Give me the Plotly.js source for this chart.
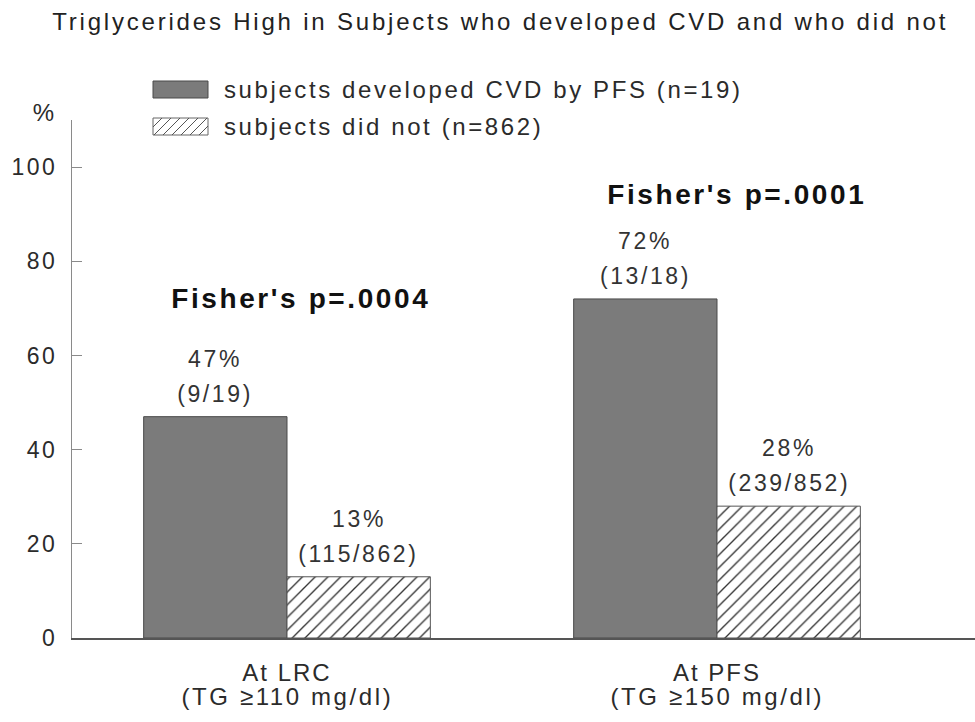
<!DOCTYPE html>
<html>
<head>
<meta charset="utf-8">
<script src="https://cdn.plot.ly/plotly-3.0.1.min.js"></script>
<style>
  html, body { margin: 0; padding: 0; background: #fff; }
  #chart { width: 975px; height: 722px; }
  #chart .gtitle { letter-spacing: 2.8px; }
  #chart .annotation-text { letter-spacing: 2.6px; }
  #chart .xtick text { letter-spacing: 2px; }
  #chart .ytick text { letter-spacing: 2.5px; }
</style>
</head>
<body>
<div id="chart"></div>
<script>
// ---- data ----
const categories = ["At LRC", "At PFS"];
const thresholdLabels = ["(TG ≥110 mg/dl)", "(TG ≥150 mg/dl)"];
const seriesNames = ["subjects developed CVD by PFS (n=19)", "subjects did not (n=862)"];
const cvdValues = [47, 72];
const noCvdValues = [13, 28];
const cvdCounts = ["9/19", "13/18"];
const noCvdCounts = ["115/862", "239/852"];
const fisherLabels = ["Fisher's p=.0004", "Fisher's p=.0001"];
const yTickValues = [0, 20, 40, 60, 80, 100];
const chartTitle = "Triglycerides High in Subjects who developed CVD and who did not";

// ---- layout helpers ----
const FONT = "Liberation Sans, Arial, Helvetica, sans-serif";
const TXT = "#2b2b2b";
const W = 975, H = 722;
const M = { l: 72, r: 0, t: 120, b: 84 };
const plotW = W - M.l - M.r, plotH = H - M.t - M.b;
const px = x => (x - M.l) / plotW;          // pixel -> paper x
const py = y => (H - M.b - y) / plotH;      // pixel -> paper y
const BARGAP = 1 / 3;
const barOffset = (1 - BARGAP) / 4;         // centre of each bar within its group

const traces = [
  {
    type: "bar", name: seriesNames[0], x: categories, y: cvdValues, hoverinfo: "skip",
    marker: { color: "#7b7b7b", line: { color: "#4a4a4a", width: 1 } }
  },
  {
    type: "bar", name: seriesNames[1], x: categories, y: noCvdValues, hoverinfo: "skip",
    marker: {
      color: "#ffffff", line: { color: "#555", width: 1 },
      pattern: { shape: "/", fgcolor: "#333", bgcolor: "#ffffff", size: 9, solidity: 0.15 }
    }
  }
];

// legend swatches (decoration)
const sw = { x0: 153, x1: 208 };
const shapes = [
  { type: "rect", xref: "paper", yref: "paper", x0: px(sw.x0), x1: px(sw.x1), y0: py(98), y1: py(81),
    fillcolor: "#7b7b7b", line: { color: "#4a4a4a", width: 1 } },
  { type: "rect", xref: "paper", yref: "paper", x0: px(sw.x0), x1: px(sw.x1), y0: py(135), y1: py(118),
    fillcolor: "#ffffff", line: { color: "#666", width: 1 } }
];
(function () {
  const top = 118, bot = 135, h = bot - top, step = 9;
  let d = "";
  for (let x = sw.x0 - h; x < sw.x1; x += step) {
    const t0 = Math.max(0, sw.x0 - x), t1 = Math.min(h, sw.x1 - x);
    if (t1 <= t0) continue;
    d += "M" + px(x + t0) + "," + py(bot - t0) + "L" + px(x + t1) + "," + py(bot - t1);
  }
  shapes.push({ type: "path", xref: "paper", yref: "paper", path: d, line: { color: "#555", width: 1 } });
})();

const labelFont = { family: FONT, size: 23, color: "#333" };
const annotations = [
  { xref: "paper", yref: "paper", x: px(222), y: py(90), xanchor: "left", yanchor: "middle", align: "left",
    text: seriesNames[0], showarrow: false, font: { family: FONT, size: 24, color: TXT } },
  { xref: "paper", yref: "paper", x: px(222), y: py(127), xanchor: "left", yanchor: "middle", align: "left",
    text: seriesNames[1], showarrow: false, font: { family: FONT, size: 24, color: TXT } },
  { xref: "paper", yref: "paper", x: px(44), y: py(113), xanchor: "center", yanchor: "middle",
    text: "%", showarrow: false, font: { family: FONT, size: 24, color: TXT } },
  { xref: "x", yref: "y", x: 0.033, y: 72.2, xanchor: "center", yanchor: "middle",
    text: "<b>" + fisherLabels[0] + "</b>", showarrow: false, font: { family: FONT, size: 28, color: "#111" } },
  { xref: "x", yref: "y", x: 1.047, y: 94.1, xanchor: "center", yanchor: "middle",
    text: "<b>" + fisherLabels[1] + "</b>", showarrow: false, font: { family: FONT, size: 28, color: "#111" } }
];
// value labels above each bar (percent + count)
[[cvdValues, cvdCounts, -barOffset], [noCvdValues, noCvdCounts, barOffset]].forEach(([vals, counts, off]) => {
  vals.forEach((v, i) => {
    annotations.push({ xref: "x", yref: "y", x: i + off, y: v, xanchor: "center", yanchor: "middle",
      yshift: 58, text: v + "%", showarrow: false, font: labelFont });
    annotations.push({ xref: "x", yref: "y", x: i + off, y: v, xanchor: "center", yanchor: "middle",
      yshift: 23, text: "(" + counts[i] + ")", showarrow: false, font: labelFont });
  });
});
// second line of the category labels
thresholdLabels.forEach((t, i) => {
  annotations.push({ xref: "x", yref: "paper", x: i, y: py(697), xanchor: "center", yanchor: "middle",
    text: t, showarrow: false, font: { family: FONT, size: 24, color: TXT } });
});

const layout = {
  width: W, height: H,
  margin: { l: M.l, r: M.r, t: M.t, b: M.b, pad: 0 },
  paper_bgcolor: "#ffffff", plot_bgcolor: "#ffffff",
  font: { family: FONT, size: 23, color: TXT },
  title: {
    text: chartTitle, font: { family: FONT, size: 24, color: "#222" },
    xref: "container", x: 0.513, xanchor: "center",
    yref: "container", y: 1 - 22 / H, yanchor: "middle"
  },
  showlegend: false,
  barmode: "group", bargap: BARGAP, bargroupgap: 0,
  xaxis: {
    type: "category", range: [-0.5, 1.6], showline: true, linecolor: "#555", linewidth: 1.5,
    ticks: "", showgrid: false, zeroline: false, fixedrange: true,
    tickfont: { family: FONT, size: 24, color: TXT }, ticklabelstandoff: 13
  },
  yaxis: {
    range: [0, 110], showline: true, linecolor: "#8a8a8a", linewidth: 1,
    ticks: "inside", ticklen: 10, tickcolor: "#8a8a8a", tickwidth: 1,
    tickvals: yTickValues, showgrid: false, zeroline: false, fixedrange: true,
    tickfont: { family: FONT, size: 23, color: TXT }, ticklabelstandoff: 9
  },
  shapes: shapes,
  annotations: annotations
};

Plotly.newPlot("chart", traces, layout, { displayModeBar: false, staticPlot: true });
</script>
</body>
</html>
